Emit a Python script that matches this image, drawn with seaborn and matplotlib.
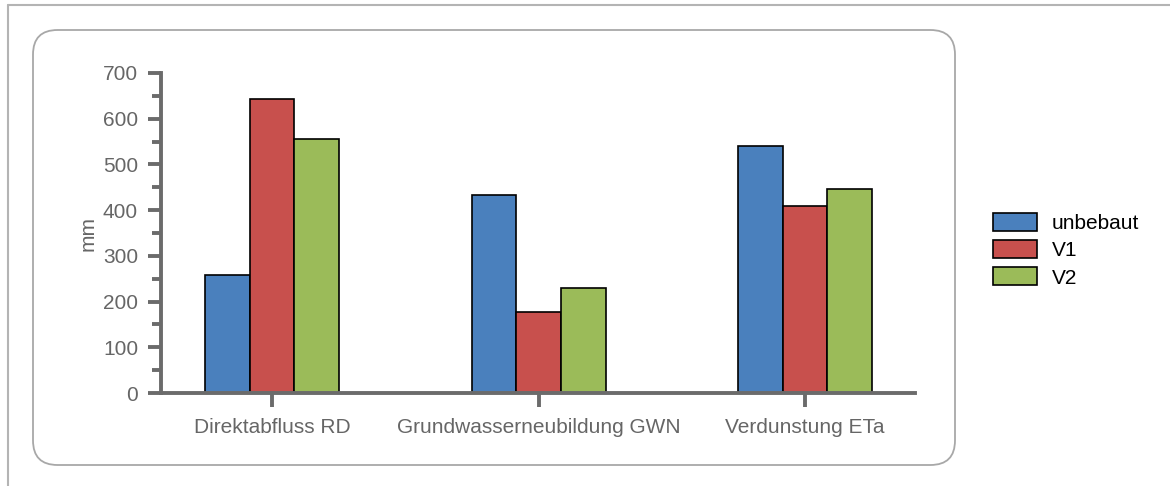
import numpy as np
import pandas as pd
import matplotlib
matplotlib.use("Agg")
import matplotlib.pyplot as plt
from matplotlib.patches import FancyBboxPatch
from matplotlib.lines import Line2D
from matplotlib.ticker import MultipleLocator
import seaborn as sns

# Wasserbilanz-Komponenten je Variante (mm)
categories = ["Direktabfluss RD", "Grundwasserneubildung GWN", "Verdunstung ETa"]
series = ["unbebaut", "V1", "V2"]
unbebaut = [258, 433, 540]
v1 = [643, 178, 409]
v2 = [556, 230, 446]
colors = ["#4A80BD", "#C8504D", "#9BBB59"]

df = pd.DataFrame({
    "Komponente": categories * 3,
    "Variante": np.repeat(series, len(categories)),
    "mm": unbebaut + v1 + v2,
})

sns.set_style("white")
plt.rcParams["font.family"] = ["Liberation Sans", "DejaVu Sans"]

W, H = 1170, 486
FS = 15
fig = plt.figure(figsize=(W / 100, H / 100), dpi=100)

# frame lines of the surrounding page and rounded chart area
fig.add_artist(Line2D([8 / W, 1], [1 - 5 / H, 1 - 5 / H], color="#b4b4b4", lw=1.5))
fig.add_artist(Line2D([8 / W, 8 / W], [0, 1 - 5 / H], color="#b4b4b4", lw=1.5))
box = FancyBboxPatch((33 / W, 1 - 465 / H), (955 - 33) / W, (465 - 30) / H,
                     boxstyle="round,pad=0,rounding_size=0.021",
                     transform=fig.transFigure, facecolor="white",
                     edgecolor="#a8a8a8", lw=1.3, mutation_aspect=W / H, zorder=-1)
fig.add_artist(box)

ax = fig.add_axes([161 / W, 1 - 393 / H, (915 - 161) / W, (393 - 73) / H])
ax.patch.set_alpha(0)

sns.barplot(data=df, x="Komponente", y="mm", hue="Variante", palette=colors,
            width=0.503, saturation=1, edgecolor="black", linewidth=1.2, ax=ax)

grey = "#6b6b6b"
ax.set_ylim(0, 700)
ax.set_xlim(-0.417, 2.413)
ax.yaxis.set_major_locator(MultipleLocator(100))
ax.yaxis.set_minor_locator(MultipleLocator(50))
for side in ["top", "right"]:
    ax.spines[side].set_visible(False)
for side in ["left", "bottom"]:
    ax.spines[side].set_color(grey)
    ax.spines[side].set_linewidth(2.8)
ax.tick_params(axis="y", which="major", direction="out", length=9.5, width=2.8,
               color=grey, labelcolor="#666666", labelsize=FS, left=True, pad=7)
ax.tick_params(axis="y", which="minor", direction="out", length=6.5, width=2.8,
               color=grey, left=True)
ax.tick_params(axis="x", direction="out", length=10, width=2.8, color=grey,
               labelcolor="#666666", labelsize=FS, bottom=True, pad=8)
ax.set_xlabel("")
ax.set_ylabel("mm", color="#666666", fontsize=FS, labelpad=4)

handles, labels = ax.get_legend_handles_labels()
ax.legend(handles, labels, loc="upper left", bbox_to_anchor=(985 / W, 1 - 205 / H),
          bbox_transform=fig.transFigure, frameon=False, fontsize=FS, labelcolor="black",
          handlelength=2.1, handleheight=0.95, labelspacing=0.33, handletextpad=0.7,
          borderaxespad=0)

fig.savefig("out.png", dpi=100)
